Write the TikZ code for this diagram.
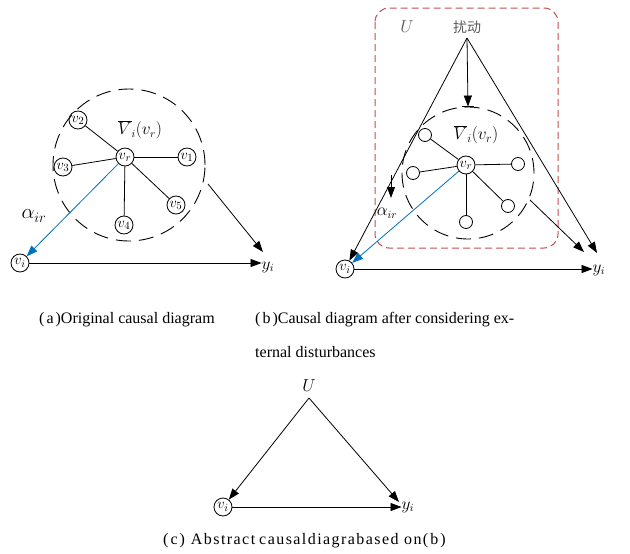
\documentclass[tikz,border=0pt]{standalone}
\usepackage{fontspec}
\setmainfont{Liberation Serif}
\newfontfamily\cjk{Noto Sans CJK SC}
\newfontfamily\widecap[LetterSpace=9]{Liberation Serif}
\usetikzlibrary{arrows.meta}
\definecolor{linkblue}{RGB}{0,112,192}
\definecolor{boxred}{RGB}{192,80,77}
\definecolor{labgray}{RGB}{90,90,90}
\newcommand\fwl{(\kern2pt}
\newcommand\fwr{\kern2pt)}
\tikzset{
  vnode/.style={draw, circle, line width=0.8pt, inner sep=0pt, minimum size=18pt,
    font=\fontsize{15}{15}\selectfont},
  dotnode/.style={draw, circle, line width=0.8pt, inner sep=0pt, minimum size=13pt},
  link/.style={line width=0.8pt},
  arr/.style={line width=0.8pt, -{Triangle[length=11pt,width=8pt]}},
  bluearr/.style={arr, linkblue},
  hull/.style={draw, circle, inner sep=0pt, line width=0.9pt, dash pattern=on 15pt off 8pt},
  lab/.style={inner sep=0pt, font=\fontsize{16}{16}\selectfont},
  captext/.style={anchor=west, inner sep=0pt, font=\fontsize{16}{16}\selectfont},
}
\begin{document}
\begin{tikzpicture}[x=1pt,y=-1pt]
\useasboundingbox (0,0) rectangle (630,554);

% ---------- (a) original causal diagram ----------
\node[hull, minimum size=152pt] (ahull) at (129,165) {};
\node[vnode] (avr) at (125,157) {$v_r$};
\node[vnode] (av1) at (187,157) {$v_1$};
\node[vnode] (av2) at (78,120) {$v_2$};
\node[vnode] (av3) at (63,167) {$v_3$};
\node[vnode] (av4) at (124,225) {$v_4$};
\node[vnode] (av5) at (176,205) {$v_5$};
\foreach \n in {av1,av2,av3,av4,av5} \draw[link] (avr) -- (\n);
\node[lab] (avbar) at (140,130) {$\overline{V}_i(v_r)$};
\node[vnode] (avi) at (20,263) {$v_i$};
\node[lab] (ayi) at (268,267) {$y_i$};
\node[lab, font=\fontsize{20}{20}\selectfont] (aalpha) at (34,216) {$\alpha_{ir}$};
\draw[bluearr] (avr) -- (avi);
\draw[arr] (avi) -- (avi -| ayi.west);
\coordinate (aout) at (208,184);
\coordinate (aytop) at (263,252);
\draw[arr] (aout) -- (aytop);

% ---------- (b) with external disturbances ----------
\draw[boxred, line width=1pt, dash pattern=on 7pt off 4pt, rounded corners=14pt]
  (375,8) rectangle (558,248);
\node[lab, labgray, font=\fontsize{16}{16}\selectfont] (bu) at (407,27) {$U$};
\node[lab, labgray, font=\cjk\fontsize{14}{14}\selectfont] (bdist) at (467,27) {扰动};
\coordinate (bapex) at (467,38);
\node[hull, minimum size=132pt] (bhull) at (468,173) {};
\node[vnode] (bvr) at (466,165) {$v_r$};
\node[dotnode] (bd1) at (518,164) {};
\node[dotnode] (bd2) at (425,135) {};
\node[dotnode] (bd3) at (413,173) {};
\node[dotnode] (bd4) at (466,222) {};
\node[dotnode] (bd5) at (508,206) {};
\foreach \n in {bd1,bd2,bd3,bd4,bd5} \draw[link] (bvr) -- (\n);
\node[lab, font=\fontsize{18}{18}\selectfont] (bvbar) at (476,135) {$\overline{V}_i(v_r)$};
\node[vnode] (bvi) at (345,269) {$v_i$};
\node[lab] (byi) at (599,270) {$y_i$};
\node[lab, font=\fontsize{16}{16}\selectfont] (balpha) at (387,213) {$\alpha_{ir}$};
\coordinate (bytop) at (597,253);
\coordinate (bytop2) at (584,252);
\coordinate (bout) at (530,200);
\coordinate (bfrom) at (391,175);
\coordinate (bto) at (391,198);
\draw[arr] (bapex) -- (bvi);
\draw[arr] (bapex) -- (bytop);
\draw[arr] (bapex) -- (bhull.north);
\draw[link] ([xshift=-6pt]bhull.north) -- ([xshift=6pt]bhull.north);
\draw[arr] (bfrom) -- (bto);
\draw[arr] (bout) -- (bytop2);
\draw[bluearr] (bvr) -- (bvi);
\draw[arr] (bvi) -- (bvi -| byi.west);

% ---------- (c) abstract causal diagram ----------
\node[lab] (cu) at (309,386) {$U$};
\coordinate (capex) at (309,398);
\node[vnode] (cvi) at (223,507) {$v_i$};
\node[lab] (cyi) at (408,507) {$y_i$};
\coordinate (cytop) at (399,502);
\draw[arr] (capex) -- (cvi);
\draw[arr] (capex) -- (cytop);
\draw[arr] (cvi) -- (cvi -| cyi.west);

% ---------- captions ----------
\node[captext] (capa) at (39,320) {\fwl a\fwr Original causal diagram};
\node[captext] (capb1) at (255,320) {\fwl b\fwr Causal diagram after considering ex-};
\node[captext] (capb2) at (255,352) {ternal disturbances};
\node[captext, font=\widecap\fontsize{16}{16}\selectfont] (capc) at (163,541)
  {\fwl c\fwr\kern6pt Abstract\kern4pt causaldiagrabased on\fwl b\fwr};
\end{tikzpicture}
\end{document}
